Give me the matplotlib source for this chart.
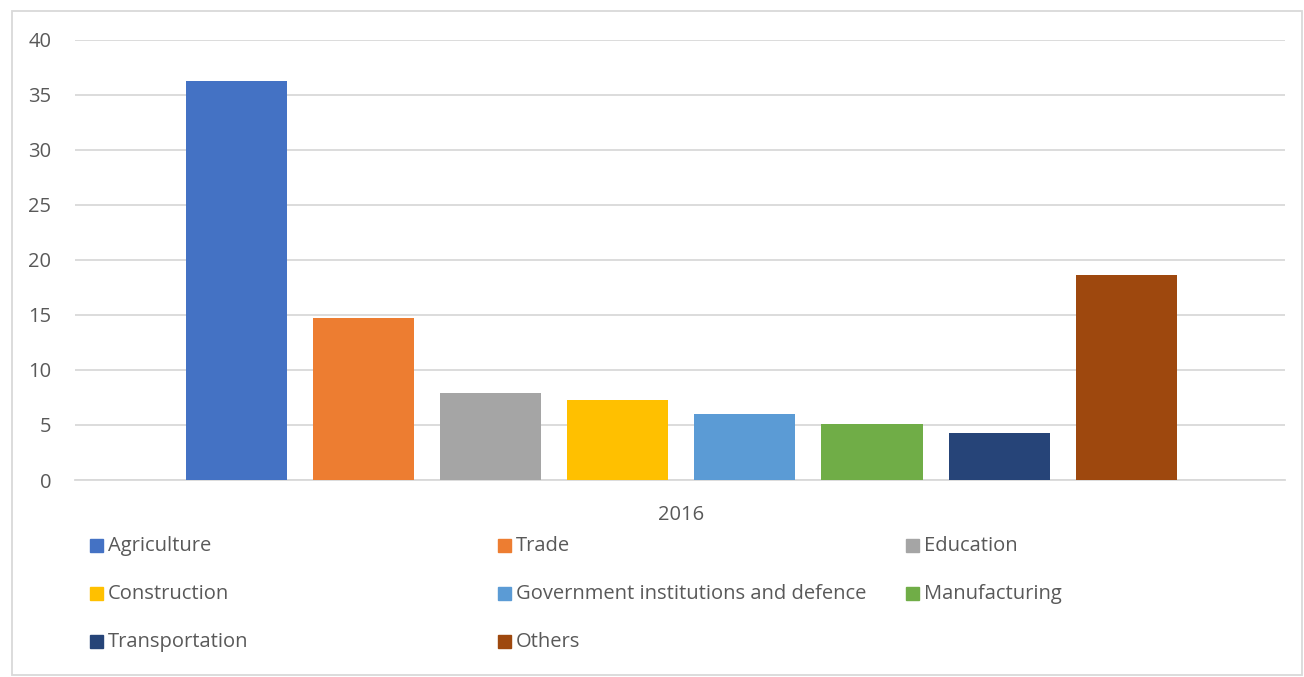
import matplotlib.pyplot as plt
from matplotlib.patches import Rectangle

# Share of employment by sector, 2016
sectors = ['Agriculture', 'Trade', 'Education', 'Construction',
           'Government institutions and defence', 'Manufacturing',
           'Transportation', 'Others']
shares = [36.3, 14.7, 7.9, 7.3, 6.0, 5.1, 4.3, 18.6]
colors = ['#4472C4', '#ED7D31', '#A5A5A5', '#FFC000',
          '#5B9BD5', '#70AD47', '#264478', '#9E480E']
year_label = '2016'
y_ticks = [0, 5, 10, 15, 20, 25, 30, 35, 40]

plt.rcParams['font.family'] = ['Open Sans', 'DejaVu Sans']
W, H = 1304, 677
fig = plt.figure(figsize=(W / 100, H / 100), dpi=100)
ax = fig.add_axes([75 / W, 1 - 480 / H, 1210 / W, 440 / H])

x = list(range(len(sectors)))
ax.bar(x, shares, width=0.795, color=colors, zorder=3)

ax.set_xlim(-1.268, len(sectors) - 1 + 1.248)
ax.set_ylim(0, 40)
ax.set_yticks(y_ticks)
ax.set_yticklabels([str(t) for t in y_ticks], fontsize=14.5, color='#595959')
ax.set_xticks([(len(sectors) - 1) / 2])
ax.set_xticklabels([year_label], fontsize=14.5, color='#595959')
ax.tick_params(axis='y', length=0, pad=17)
ax.tick_params(axis='x', length=0, pad=18)
ax.grid(axis='y', color='#D9D9D9', linewidth=1.3, zorder=0)
for s in ['top', 'right', 'left']:
    ax.spines[s].set_visible(False)
ax.spines['bottom'].set_color('#D9D9D9')
ax.spines['bottom'].set_linewidth(1.3)

# legend laid out in three even columns beneath the plot
col_x = [90, 498, 906]
row_y = [545, 593, 641]
for i, (name, c) in enumerate(zip(sectors, colors)):
    cx = col_x[i % 3]
    cy = row_y[i // 3]
    fig.patches.append(Rectangle(((cx) / W, 1 - (cy + 7) / H), 13 / W, 13 / H,
                                 transform=fig.transFigure, color=c))
    fig.text((cx + 18) / W, 1 - (cy + 1) / H, name, fontsize=14.5,
             color='#595959', va='center', ha='left')

# light frame around the whole chart
fig.patches.append(Rectangle((12 / W, 2 / H), (W - 14) / W, (H - 13) / H,
                             transform=fig.transFigure, fill=False,
                             edgecolor='#D9D9D9', linewidth=1.3))

fig.savefig('out.png', dpi=100, facecolor='white')
